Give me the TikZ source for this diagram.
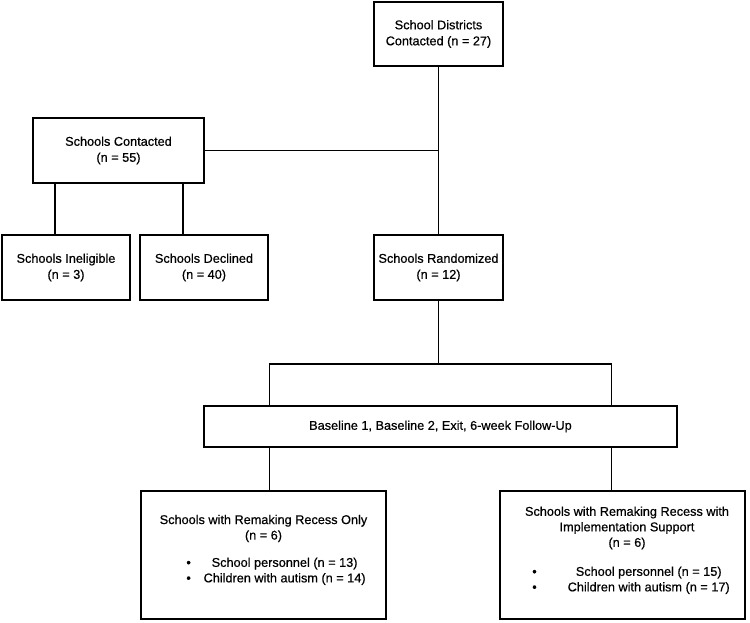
\documentclass[tikz,border=0pt]{standalone}
\usepackage{fontspec}
\setmainfont{Liberation Sans}
\newfontfamily\figfont{Liberation Sans}[FakeBold=0.6]

\tikzset{
  box/.style={draw, line width=1.7pt, align=center, inner sep=0pt, font=\figfont\fontsize{12.7}{16}\selectfont},
  txt/.style={inner sep=0pt, align=center, font=\figfont\fontsize{12.7}{15.5}\selectfont},
  wire/.style={line width=1.7pt}
}

\begin{document}
\begin{tikzpicture}[x=1pt,y=1pt]
  \useasboundingbox (0,0) rectangle (750,-622);

  % top part
  \node[box, minimum width=129pt, minimum height=64pt] (districts) at (438.5,-34) {School Districts\\Contacted (n = 27)};
  \node[box, minimum width=171pt, minimum height=65pt] (contacted) at (118.5,-150.5) {Schools Contacted\\(n = 55)};
  \node[box, minimum width=128pt, minimum height=65pt] (ineligible) at (66,-267.5) {Schools Ineligible\\(n = 3)};
  \node[box, minimum width=128pt, minimum height=65pt] (declined) at (204,-267.5) {Schools Declined\\(n = 40)};
  \node[box, minimum width=129pt, minimum height=65pt] (randomized) at (438.5,-267.5) {Schools Randomized\\(n = 12)};

  % assessments
  \node[box, minimum width=473pt, minimum height=41pt] (baseline) at (440.5,-426.5) {Baseline 1, Baseline 2, Exit, 6-week Follow-Up};

  % the two conditions
  \node[box, minimum width=245pt, minimum height=128pt] (remaking) at (263.5,-555) {};
  \node[box, minimum width=245pt, minimum height=128pt] (support) at (622.5,-555) {};
  \node[txt] (remakingtitle) at (263.5,-528.5) {Schools with Remaking Recess Only\\(n = 6)};
  \node[txt] (remakinglist) at (276,-571.5) {\begin{tabular}{@{}c@{\hspace{12.8pt}}c@{}}
    \textbullet & School personnel (n = 13)\\
    \textbullet & Children with autism (n = 14)\end{tabular}};
  \node[txt] (supporttitle) at (627,-528) {Schools with Remaking Recess with\\Implementation Support\\(n = 6)};
  \node[txt] (supportlist) at (631,-580.5) {\begin{tabular}{@{}c@{\hspace{31pt}}c@{}}
    \textbullet & School personnel (n = 15)\\
    \textbullet & Children with autism (n = 17)\end{tabular}};

  % connectors
  \draw[wire] (districts.south) -- (randomized.north);
  \draw[wire] (contacted.east) -- (contacted.east -| districts.south);
  \draw[wire] ([xshift=-11pt]ineligible.north) -- ([xshift=-11pt]ineligible.north |- contacted.south);
  \draw[wire] ([xshift=-21pt]declined.north) -- ([xshift=-21pt]declined.north |- contacted.south);
  \coordinate (split) at (438.5,-364);
  \draw[wire] (randomized.south) -- (split);
  \draw[wire] ([xshift=-171pt]baseline.north) |- (split) -| ([xshift=171pt]baseline.north);
  \draw[wire] ([xshift=6pt]remaking.north) -- ([xshift=6pt]remaking.north |- baseline.south);
  \draw[wire] ([xshift=-11pt]support.north) -- ([xshift=-11pt]support.north |- baseline.south);
\end{tikzpicture}
\end{document}
